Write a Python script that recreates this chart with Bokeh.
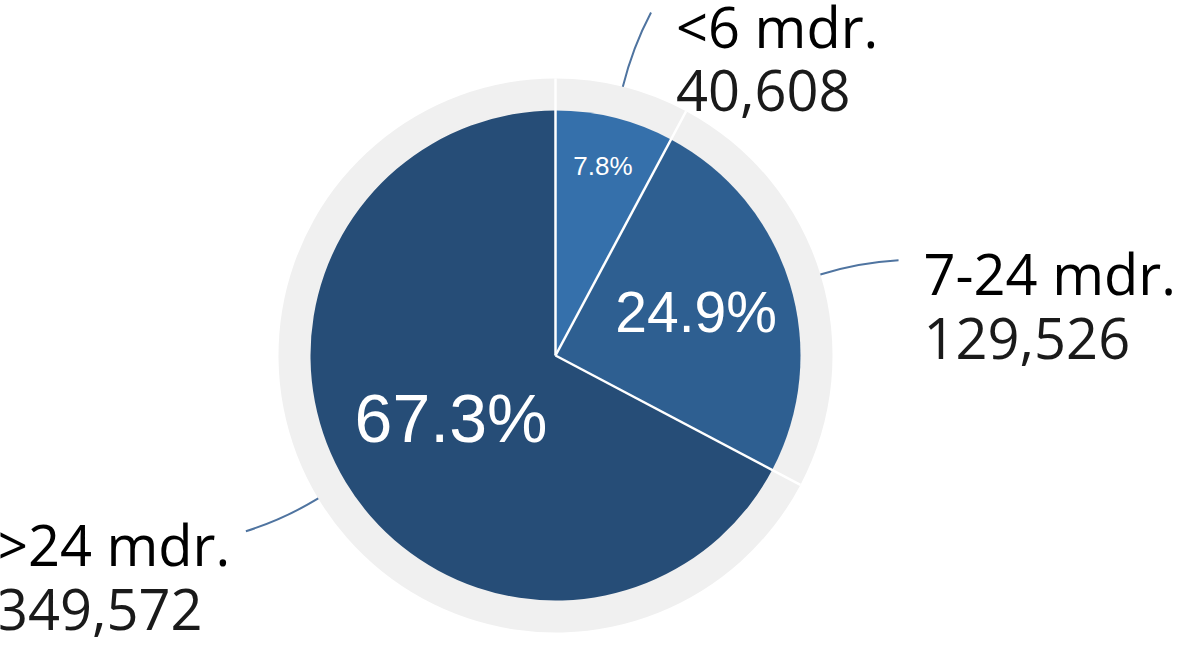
import math
from bokeh.plotting import figure
from bokeh.models import Range1d, ColumnDataSource
from bokeh.core.properties import value
from bokeh.embed import file_html
from bokeh.resources import INLINE

# ---- data ----
categories = ["<6 mdr.", "7-24 mdr.", ">24 mdr."]
counts = [40608, 129526, 349572]
colors = ["#3570AB", "#2E5F91", "#264D77"]

# ---- style ----
pct_radius = [195, 147, 122]
pct_size = [26, 57, 68]
W, H = 1178, 645
CX, CY = 555, 290
R_PIE, R_RING = 245, 277

total = sum(counts)
fracs = [c / total for c in counts]

p = figure(width=W, height=H, output_backend="svg", toolbar_location=None,
           x_range=Range1d(0, W), y_range=Range1d(0, H),
           x_axis_location=None, y_axis_location=None, min_border=0,
           outline_line_color=None, background_fill_color="white")
p.grid.visible = False

starts, ends, mids = [], [], []
cum = 0.0
for f in fracs:
    a0 = math.pi / 2 - 2 * math.pi * cum
    a1 = math.pi / 2 - 2 * math.pi * (cum + f)
    starts.append(a1)
    ends.append(a0)
    mids.append((a0 + a1) / 2)
    cum += f

src = ColumnDataSource(dict(x=[CX] * 3, y=[CY] * 3, s=starts, e=ends, c=colors))
p.annular_wedge(x="x", y="y", inner_radius=R_PIE - 1, outer_radius=R_RING,
                start_angle="s", end_angle="e", fill_color="#F0F0F0", line_color=None, source=src)
p.wedge(x="x", y="y", radius=R_PIE, start_angle="s", end_angle="e",
        fill_color="c", line_color=None, source=src)

# separators
bx = [CX + R_RING * math.cos(a) for a in ends]
by = [CY + R_RING * math.sin(a) for a in ends]
p.segment(x0=[CX] * 3, y0=[CY] * 3, x1=bx, y1=by, line_color="white", line_width=2.5)

# percent labels
px = [CX + r * math.cos(m) for r, m in zip(pct_radius, mids)]
py = [CY + r * math.sin(m) for r, m in zip(pct_radius, mids)]
for i in range(3):
    p.text(x=[px[i]], y=[py[i]], text=["%.1f%%" % (fracs[i] * 100)], text_color="white",
           text_font=value("Liberation Sans"), text_font_size="%dpx" % pct_size[i],
           text_align="center", text_baseline="middle")

# leader lines and labels
for i, m in enumerate(mids):
    x0 = CX + R_RING * math.cos(m)
    y0 = CY + R_RING * math.sin(m)
    cx = CX + 318 * math.cos(m)
    cy = CY + 318 * math.sin(m)
    right = math.cos(m) > 0
    horiz = 0.0 if right else (math.pi if m > 0 else -math.pi)
    shift = math.radians(1.5)
    me = m - shift if m > horiz else m + shift
    x1 = CX + 356 * math.cos(me)
    y1 = CY + 356 * math.sin(me)
    p.quadratic(x0=[x0], y0=[y0], x1=[x1], y1=[y1], cx=[cx], cy=[cy],
                line_color="#4F74A0", line_width=2)
    tx = x1 + 25 if right else x1 - 250
    ty = y1 - 13
    p.text(x=[tx], y=[ty], text=[categories[i]], text_color="#000000",
           text_font=value("Open Sans"), text_font_size="56px",
           text_align="left", text_baseline="alphabetic")
    p.text(x=[tx], y=[ty - 65], text=["{:,}".format(counts[i])], text_color="#1a1a1a",
           text_font=value("Open Sans"), text_font_size="56px",
           text_align="left", text_baseline="alphabetic")

open("out.html", "w").write(file_html(p, INLINE))
